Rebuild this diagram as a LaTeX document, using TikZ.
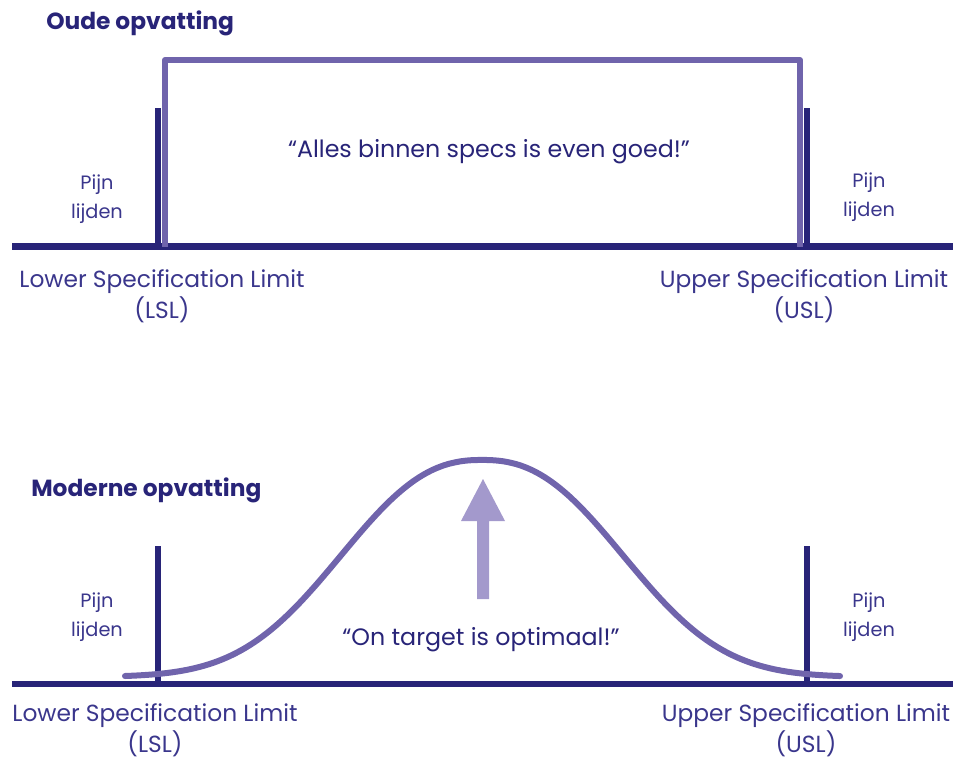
\documentclass[tikz,border=0pt]{standalone}
\usepackage{fontspec}
\setmainfont{Poppins}
\usetikzlibrary{positioning}

\definecolor{navy}{RGB}{40,36,120}
\definecolor{lilac}{RGB}{112,100,172}
\definecolor{lavender}{RGB}{163,153,204}
\definecolor{labelink}{RGB}{58,54,140}

\tikzset{
  baseline axis/.style={color=navy, line width=5pt},
  limit line/.style={color=navy, line width=4.5pt},
  spec shape/.style={color=lilac, line width=4.5pt, line join=round},
  title text/.style={anchor=west, inner sep=0.75pt, text=navy, font=\fontsize{17.5}{20}\selectfont\bfseries},
  limit text/.style={inner sep=0.75pt, text=labelink, align=center, font=\fontsize{17.5}{23.5}\selectfont},
  pain text/.style={inner sep=0.75pt, text=labelink, align=center, font=\fontsize{14.5}{21.5}\selectfont},
  quote text/.style={inner sep=0.75pt, text=navy, font=\fontsize{17.8}{20}\selectfont}
}

\begin{document}
\begin{tikzpicture}[x=0.75pt,y=0.75pt,yscale=-1,xscale=1]
\useasboundingbox (0,0) rectangle (958,760);

%%% Oude opvatting
% Text Node
\node (oudeTitle) [title text] at (45,23) {Oude opvatting};
%Straight Lines: axis
\draw [baseline axis] (12,246.5) -- (953,246.5);
%Straight Lines: limits
\draw [limit line] (158,108) -- (158,246.5);
\draw [limit line] (807,108) -- (807,246.5);
%Shape: spec box
\draw [spec shape] (165,246.5) -- (165,60) -- (800,60) -- (800,246.5);
% Text Node
\node (oudeQuote) [quote text] at (489,152) {“Alles binnen specs is even goed!”};
% Text Node
\node (oudePainL) [pain text] at (97,199) {Pijn\\lijden};
\node (oudePainR) [pain text] at (869,197) {Pijn\\lijden};
% Text Node
\node (oudeLSL) [limit text] at (162,296) {Lower Specification Limit\\(LSL)};
\node (oudeUSL) [limit text] at (804,296) {Upper Specification Limit\\(USL)};

%%% Moderne opvatting
% Text Node
\node (modernTitle) [title text] at (30,490) {Moderne opvatting};
%Straight Lines: axis
\draw [baseline axis] (12,684) -- (953,684);
%Straight Lines: limits
\draw [limit line] (158,546) -- (158,684);
\draw [limit line] (807,546) -- (807,684);
%Curve Lines: bell
\draw [spec shape, line cap=round] plot[domain=125:840, samples=120, smooth] (\x, {677-217*exp(-(abs(\x-482)/177)^2.4)});
%Shape: target arrow
\fill [lavender] (477,599) -- (477,521) -- (461,521) -- (483,479) -- (505,521) -- (489,521) -- (489,599) -- cycle;
% Text Node
\node (modernQuote) [quote text] at (481,640) {“On target is optimaal!”};
% Text Node
\node (modernPainL) [pain text] at (97,617) {Pijn\\lijden};
\node (modernPainR) [pain text] at (869,617) {Pijn\\lijden};
% Text Node
\node (modernLSL) [limit text] at (155,730) {Lower Specification Limit\\(LSL)};
\node (modernUSL) [limit text] at (806,730) {Upper Specification Limit\\(USL)};
\end{tikzpicture}
\end{document}
